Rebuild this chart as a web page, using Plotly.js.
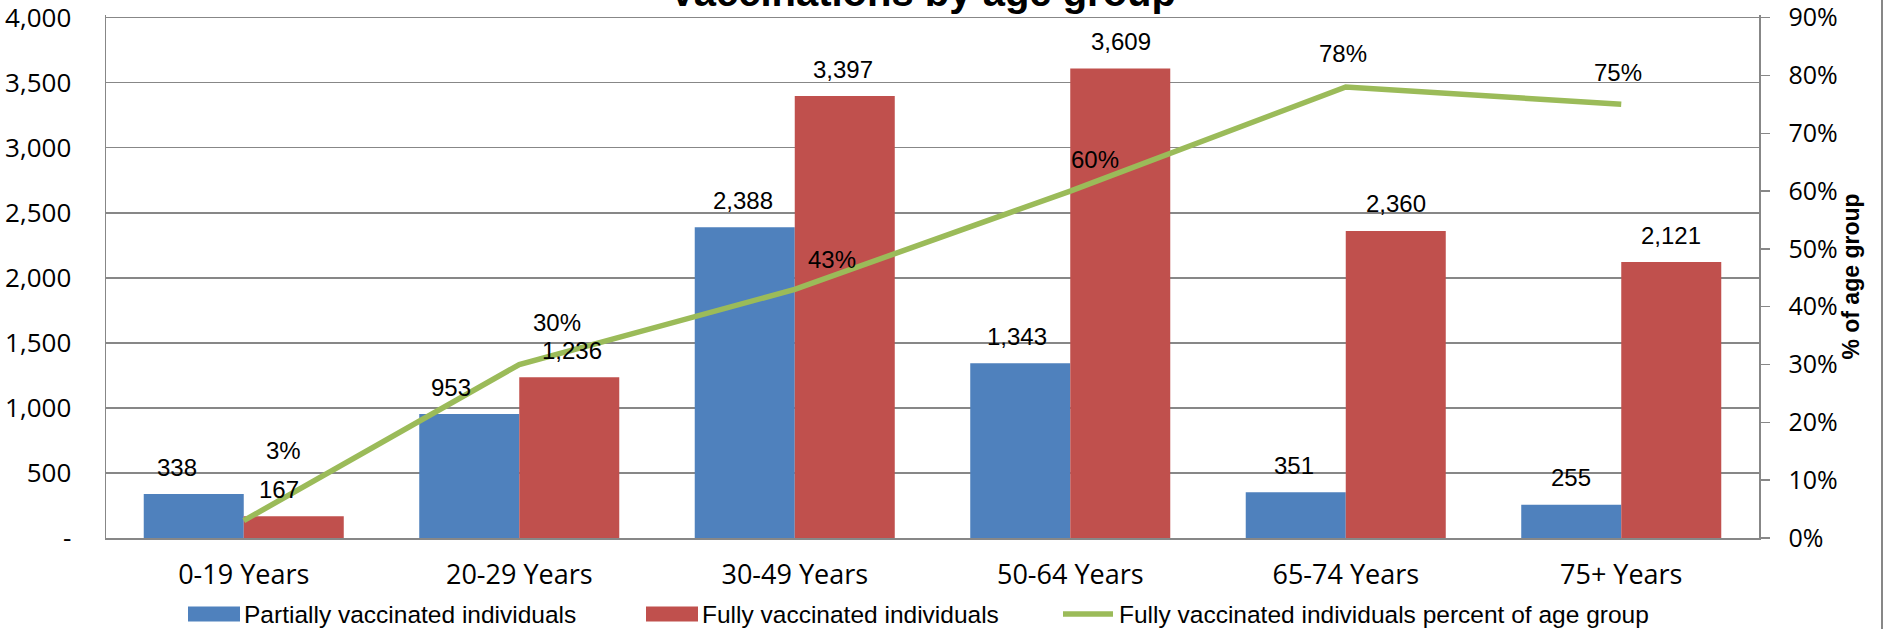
<!DOCTYPE html>
<html>
<head>
<meta charset="utf-8">
<script src="https://cdn.plot.ly/plotly-3.0.1.min.js"></script>
<style>html,body{margin:0;padding:0;background:#fff;}#chart{width:1887px;height:629px;}</style>
</head>
<body>
<div id="chart"></div>
<script>
// ---- data ----
const categories = ['0-19 Years', '20-29 Years', '30-49 Years', '50-64 Years', '65-74 Years', '75+ Years'];
const partiallyVaccinated = [338, 953, 2388, 1343, 351, 255];
const fullyVaccinated = [167, 1236, 3397, 3609, 2360, 2121];
const fullyPercent = [0.03, 0.30, 0.43, 0.60, 0.78, 0.75];
const leftTickVals = [0, 500, 1000, 1500, 2000, 2500, 3000, 3500, 4000];
const leftTickText = ['-', '500', '1,000', '1,500', '2,000', '2,500', '3,000', '3,500', '4,000'];
const rightTickVals = [0, 0.1, 0.2, 0.3, 0.4, 0.5, 0.6, 0.7, 0.8, 0.9];
const seriesNames = ['Partially vaccinated individuals', 'Fully vaccinated individuals', 'Fully vaccinated individuals percent of age group'];

// ---- styling (label nudges, px) ----
const partialLabelShiftX = [-17, -18, -2, -3, -2, 0];
const fullLabelShiftX = [-15, 3, -2, 1, 0, 0];
const pctLabelShift = [[40, -70], [38, -42], [37, -30], [25, -32], [-3, -33], [-3, -32]];

const SANS = "'Liberation Sans', Arial, sans-serif";
const TICKF = "'Open Sans', 'Noto Sans', sans-serif";
const GRID = '#878787';
const BLUE = '#4F81BD', RED = '#C0504D', GREEN = '#9BBB59';

// axis headroom so the top gridline (4,000 / 90%) is not clipped at the plot edge
const HEAD = 1.005;

const fmt = v => v.toLocaleString('en-US');
const BAR_HALF = 50; // half bar width in px for label centring

const annotations = [];
categories.forEach((c, i) => {
  annotations.push({x: c, y: partiallyVaccinated[i], xref: 'x', yref: 'y', text: fmt(partiallyVaccinated[i]),
    showarrow: false, xshift: -BAR_HALF + partialLabelShiftX[i], yshift: 27, yanchor: 'middle',
    font: {family: SANS, size: 24, color: '#000'}});
  annotations.push({x: c, y: fullyVaccinated[i], xref: 'x', yref: 'y', text: fmt(fullyVaccinated[i]),
    showarrow: false, xshift: BAR_HALF + fullLabelShiftX[i], yshift: 27, yanchor: 'middle',
    font: {family: SANS, size: 24, color: '#000'}});
  annotations.push({x: c, y: fullyPercent[i], xref: 'x', yref: 'y2', text: Math.round(fullyPercent[i] * 100) + '%',
    showarrow: false, xshift: pctLabelShift[i][0], yshift: -pctLabelShift[i][1], yanchor: 'middle',
    font: {family: SANS, size: 24, color: '#000'}});
});

const traces = [
  {type: 'bar', name: seriesNames[0], x: categories, y: partiallyVaccinated, marker: {color: BLUE}, legendwidth: 393, hoverinfo: 'none'},
  {type: 'bar', name: seriesNames[1], x: categories, y: fullyVaccinated, marker: {color: RED}, legendwidth: 352, hoverinfo: 'none'},
  {type: 'scatter', mode: 'lines', name: seriesNames[2], x: categories, y: fullyPercent, yaxis: 'y2',
   line: {color: GREEN, width: 5.5}, hoverinfo: 'none'}
];

const layout = {
  width: 1887, height: 629,
  margin: {l: 106, r: 128, t: 15.4, b: 91, pad: 0},
  paper_bgcolor: '#fff', plot_bgcolor: '#fff',
  barmode: 'group', bargap: 0.274, bargroupgap: 0,
  showlegend: true,
  title: {text: 'Vaccinations by age group', xref: 'paper', x: 0.494, xanchor: 'center',
          yref: 'container', y: 1 - 6 / 629, yanchor: 'bottom',
          font: {family: SANS, size: 40, weight: 700, color: '#000'}},
  xaxis: {type: 'category', showgrid: false, showline: true, linecolor: GRID, linewidth: 1.5,
          ticks: '', tickfont: {family: TICKF, size: 27, color: '#000'}, ticklabelstandoff: 12,
          automargin: false, fixedrange: true},
  yaxis: {range: [0, 4000 * HEAD], tickvals: leftTickVals, ticktext: leftTickText, showgrid: true,
          gridcolor: GRID, gridwidth: 1.5, showline: true, linecolor: GRID, linewidth: 1.5,
          zeroline: false, ticks: '', ticklabelstandoff: 28, automargin: false, ticklabeloverflow: 'allow',
          tickfont: {family: TICKF, size: 26, color: '#000'}, fixedrange: true},
  yaxis2: {overlaying: 'y', side: 'right', range: [0, 0.9 * HEAD], tickvals: rightTickVals, tickformat: '.0%',
           showgrid: false, zeroline: false, showline: true, linecolor: GRID, linewidth: 1.5,
           ticks: 'outside', ticklen: 9, tickwidth: 1.5, tickcolor: GRID, ticklabelstandoff: 14,
           tickfont: {family: TICKF, size: 25, color: '#000'}, automargin: false, ticklabeloverflow: 'allow',
           title: {text: '% of age group', standoff: 0, font: {family: SANS, size: 23, weight: 700, color: '#000'}},
           fixedrange: true},
  legend: {orientation: 'h', xref: 'paper', x: (184 - 106) / 1653, xanchor: 'left',
           yref: 'container', y: 1 - 614 / 629, yanchor: 'middle', itemwidth: 50,
           font: {family: SANS, size: 24.5, color: '#000'}, bgcolor: 'rgba(0,0,0,0)', borderwidth: 0,
           traceorder: 'normal'},
  annotations: annotations,
  shapes: [{type: 'line', xref: 'paper', yref: 'paper', x0: (1882 - 106) / 1653, x1: (1882 - 106) / 1653,
            y0: -2, y1: 2, line: {color: GRID, width: 2}}]
};

Plotly.newPlot('chart', traces, layout, {displayModeBar: false, staticPlot: true}).then(function (gd) {
  // widen legend keys to match the reference's long swatches
  const items = gd.querySelectorAll('.legend g.traces');
  [0, 1].forEach(function (k) {
    if (!items[k]) return;
    items[k].querySelectorAll('g.legendpoints path').forEach(function (p) {
      p.setAttribute('transform', '');
      p.setAttribute('d', 'M4,7.5H56V-7.5H4Z');
    });
  });
  if (items[2]) {
    items[2].querySelectorAll('g.legendlines path').forEach(function (p) {
      p.setAttribute('d', 'M4,0h50');
    });
  }
});
</script>
</body>
</html>
